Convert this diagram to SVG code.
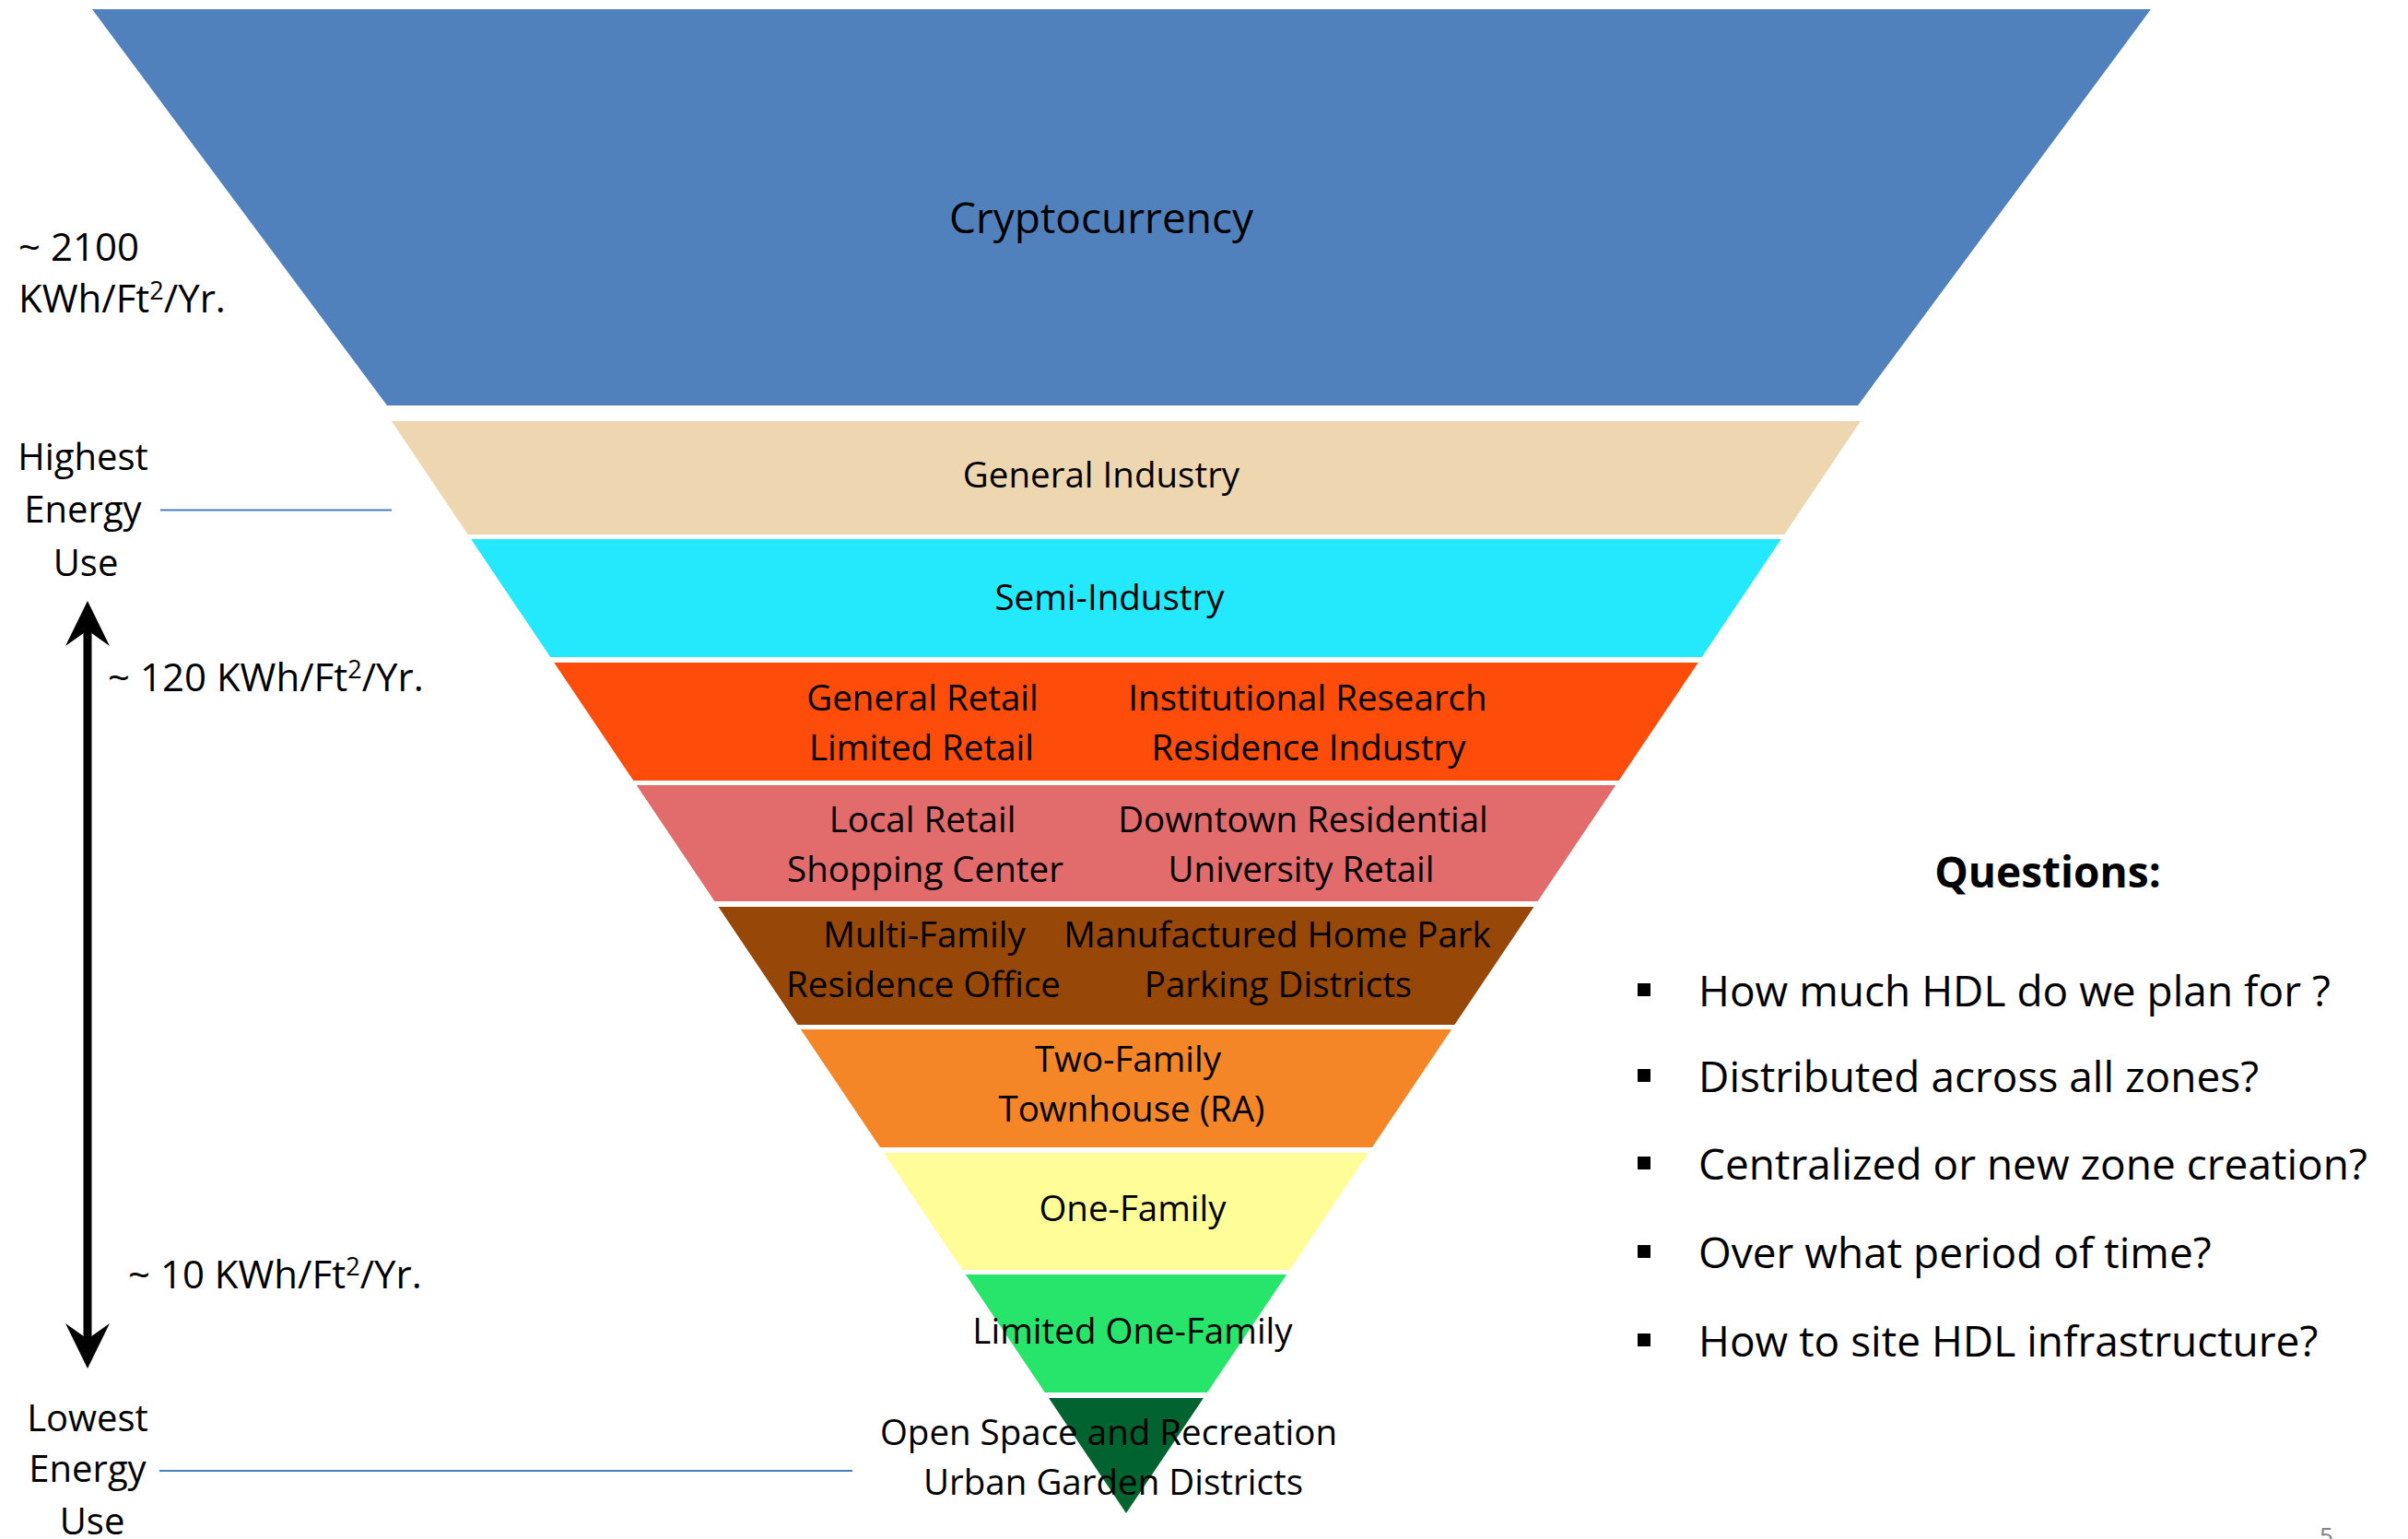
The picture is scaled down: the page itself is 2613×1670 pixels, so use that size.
<svg xmlns="http://www.w3.org/2000/svg" width="2613" height="1670" viewBox="0 0 2613 1670">
<style>
.t{font-family:"Open Sans","Liberation Sans",sans-serif;fill:#000;}
.band{font-size:38.5px;text-anchor:middle;}
.side{font-size:40px;}
.kwh{font-size:42px;}
.mid{text-anchor:middle;}
.q{font-size:46px;}
.sup{font-size:27px;}
.lead{stroke:#4a7ebb;stroke-width:2;fill:none;}
</style>
<defs>
<marker id="ah" markerUnits="userSpaceOnUse" markerWidth="52" markerHeight="52" viewBox="-30 -26 52 52" refX="0" refY="0" orient="auto-start-reverse">
<path d="M20,0 L-29,-24 L-12,0 L-29,24 Z" fill="#000"/>
</marker>
</defs>
<rect width="2613" height="1670" fill="#fff"/>

<g id="crypto">
<polygon points="100,10 2334,10 2016,440 420,440" fill="#5081bc"/>
<text class="t" x="1195" y="253" font-size="46" text-anchor="middle">Cryptocurrency</text>
</g>
<g id="general-industry">
<polygon points="425,457 2019,457 1936.3,580 507.7,580" fill="#edd6b0"/>
<text class="t band" x="1195" y="529">General Industry</text>
</g>
<g id="semi-industry">
<polygon points="511.1,585 1932.9,585 1846.8,713 597.2,713" fill="#24e8fc"/>
<text class="t band" x="1204" y="662">Semi-Industry</text>
</g>
<g id="retail-institutional">
<polygon points="601.2,719 1842.8,719 1756.7,847 687.3,847" fill="#fe4d0b"/>
<text class="t band" x="1001" y="771">General Retail</text>
<text class="t band" x="1000" y="825">Limited Retail</text>
<text class="t band" x="1419" y="771">Institutional Research</text>
<text class="t band" x="1420" y="825">Residence Industry</text>
</g>
<g id="local-retail">
<polygon points="690.7,852 1753.3,852 1668.6,978 775.4,978" fill="#e26b6c"/>
<text class="t band" x="1001" y="903">Local Retail</text>
<text class="t band" x="1004" y="957">Shopping Center</text>
<text class="t band" x="1414" y="903">Downtown Residential</text>
<text class="t band" x="1412" y="957">University Retail</text>
</g>
<g id="multi-family">
<polygon points="779.5,984 1664.5,984 1578.4,1112 865.6,1112" fill="#974708"/>
<text class="t band" x="1003" y="1028">Multi-Family</text>
<text class="t band" x="1002" y="1082">Residence Office</text>
<text class="t band" x="1386" y="1028">Manufactured Home Park</text>
<text class="t band" x="1387" y="1082">Parking Districts</text>
</g>
<g id="two-family">
<polygon points="868.9,1117 1575.1,1117 1489,1245 955,1245" fill="#f48628"/>
<text class="t band" x="1224" y="1163">Two-Family</text>
<text class="t band" x="1228" y="1217">Townhouse (RA)</text>
</g>
<g id="one-family">
<polygon points="959,1251 1485,1251 1399.5,1378 1044.5,1378" fill="#fefd98"/>
<text class="t band" x="1229" y="1325">One-Family</text>
</g>
<g id="limited-one-family">
<polygon points="1047.8,1383 1396.2,1383 1310.1,1511 1133.9,1511" fill="#27e56a"/>
<text class="t band" x="1229" y="1458">Limited One-Family</text>
</g>
<g id="open-space">
<polygon points="1138,1517 1306,1517 1222,1642" fill="#006330"/>
<text class="t band" x="1203" y="1568">Open Space and Recreation</text>
<text class="t band" x="1208" y="1622">Urban Garden Districts</text>
</g>

<g id="label-2100">
<text class="t kwh" x="20" y="283">~ 2100</text>
<text class="t kwh" x="20" y="339">KWh/Ft<tspan class="sup" dy="-14">2</tspan><tspan dy="14">/Yr.</tspan></text>
</g>
<g id="label-highest">
<text class="t side mid" x="90" y="510">Highest</text>
<text class="t side mid" x="90" y="567">Energy</text>
<text class="t side mid" x="93" y="625">Use</text>
</g>
<g id="label-120">
<text class="t kwh" x="117" y="750">~ 120 KWh/Ft<tspan class="sup" dy="-14">2</tspan><tspan dy="14">/Yr.</tspan></text>
</g>
<g id="label-10">
<text class="t kwh" x="139" y="1398">~ 10 KWh/Ft<tspan class="sup" dy="-14">2</tspan><tspan dy="14">/Yr.</tspan></text>
</g>
<g id="label-lowest">
<text class="t side mid" x="95" y="1553">Lowest</text>
<text class="t side mid" x="95" y="1608">Energy</text>
<text class="t side mid" x="100" y="1665">Use</text>
</g>

<g id="questions">
<text class="t q" x="2222" y="963" text-anchor="middle" font-weight="bold" font-size="45">Questions:</text>
<rect x="1777" y="1067" width="14" height="14" fill="#000"/>
<text class="t q" x="1843" y="1092">How much HDL do we plan for ?</text>
<rect x="1777" y="1160" width="14" height="14" fill="#000"/>
<text class="t q" x="1843" y="1185">Distributed across all zones?</text>
<rect x="1777" y="1255" width="14" height="14" fill="#000"/>
<text class="t q" x="1843" y="1280">Centralized or new zone creation?</text>
<rect x="1777" y="1351" width="14" height="14" fill="#000"/>
<text class="t q" x="1843" y="1376">Over what period of time?</text>
<rect x="1777" y="1447" width="14" height="14" fill="#000"/>
<text class="t q" x="1843" y="1472">How to site HDL infrastructure?</text>
</g>

<g id="page-number">
<text x="2517" y="1676" font-family="Open Sans, Liberation Sans, sans-serif" font-size="26" fill="#808080">5</text>
</g>

<g id="connectors">
<line class="lead" x1="174" y1="553.5" x2="425" y2="553.5"/>
<line class="lead" x1="173" y1="1596" x2="925" y2="1596"/>
<line x1="95" y1="672" x2="95" y2="1465" stroke="#000" stroke-width="9" marker-start="url(#ah)" marker-end="url(#ah)"/>
</g>
</svg>
